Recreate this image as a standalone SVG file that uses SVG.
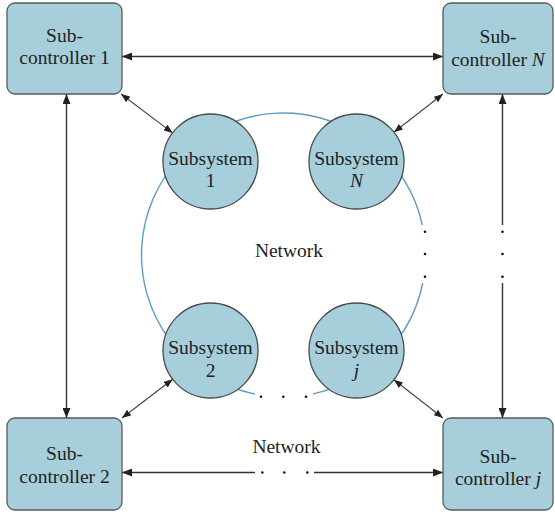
<svg xmlns="http://www.w3.org/2000/svg" width="555" height="514" viewBox="0 0 555 514">
<style>
.box{fill:#a6cfdb;stroke:#5a5a5a;stroke-width:1.3}
.sub{fill:#a6cfdb;stroke:#4a4a4a;stroke-width:1.3}
.t{font-family:"Liberation Serif","Times New Roman",serif;font-size:19.5px;fill:#222;text-anchor:middle}
.i{font-style:italic}
.ln{stroke:#333;stroke-width:1.4;fill:none}
.dg{stroke:#444;stroke-width:1.1;fill:none}
.net{stroke:#5e9cc4;stroke-width:1.4;fill:none}
.dot{fill:#111}
</style>
<defs>
<marker id="a" viewBox="0 0 10 8" refX="10" refY="4" markerWidth="10" markerHeight="8" markerUnits="userSpaceOnUse" orient="auto-start-reverse"><path d="M0,0 L10,4 L0,8 z" fill="#222"/></marker>
<marker id="b" viewBox="0 0 9 7" refX="9" refY="3.5" markerWidth="9" markerHeight="7" markerUnits="userSpaceOnUse" orient="auto-start-reverse"><path d="M0,0 L9,3.5 L0,7 z" fill="#222"/></marker>
</defs>
<g id="network">
<path class="net" d="M422.7 283 A142 142 0 0 1 313 393.9"/>
<path class="net" d="M255 394.1 A142 142 0 1 1 422.3 225"/>
<circle class="dot" cx="425" cy="231.7" r="1.3"/>
<circle class="dot" cx="425" cy="254" r="1.3"/>
<circle class="dot" cx="425" cy="276.7" r="1.3"/>
<circle class="dot" cx="261" cy="396.7" r="1.3"/>
<circle class="dot" cx="283.3" cy="396.7" r="1.3"/>
<circle class="dot" cx="306" cy="396.7" r="1.3"/>
<text class="t" x="289" y="257">Network</text>
<text class="t" x="286.5" y="453">Network</text>
</g>
<g id="connectors">
<line class="ln" x1="122" y1="56.5" x2="443" y2="56.5" marker-start="url(#a)" marker-end="url(#a)"/>
<line class="ln" x1="66.5" y1="94" x2="66.5" y2="418" marker-start="url(#a)" marker-end="url(#a)"/>
<line class="ln" x1="502.5" y1="94" x2="502.5" y2="225" marker-start="url(#a)"/>
<line class="ln" x1="502.5" y1="283" x2="502.5" y2="418" marker-end="url(#a)"/>
<circle class="dot" cx="502.5" cy="231.7" r="1.3"/>
<circle class="dot" cx="502.5" cy="254" r="1.3"/>
<circle class="dot" cx="502.5" cy="276.7" r="1.3"/>
<line class="ln" x1="122" y1="472.5" x2="255" y2="472.5" marker-start="url(#a)"/>
<line class="ln" x1="314" y1="472.5" x2="443" y2="472.5" marker-end="url(#a)"/>
<circle class="dot" cx="262.3" cy="472.5" r="1.3"/>
<circle class="dot" cx="284.3" cy="472.5" r="1.3"/>
<circle class="dot" cx="307.3" cy="472.5" r="1.3"/>
<line class="dg" x1="121" y1="94" x2="172.6" y2="132.9" marker-start="url(#b)" marker-end="url(#b)"/>
<line class="dg" x1="443" y1="94" x2="393.9" y2="132.3" marker-start="url(#b)" marker-end="url(#b)"/>
<line class="dg" x1="122" y1="418" x2="172.7" y2="379.3" marker-start="url(#b)" marker-end="url(#b)"/>
<line class="dg" x1="443" y1="418" x2="393.9" y2="379.7" marker-start="url(#b)" marker-end="url(#b)"/>
</g>
<g id="subcontroller1">
<rect class="box" x="7" y="3" width="115" height="91" rx="8"/>
<text class="t" x="64.5" y="42">Sub-</text>
<text class="t" x="64.5" y="63.5">controller 1</text>
</g>
<g id="subcontrollerN">
<rect class="box" x="443" y="3" width="110" height="91" rx="8"/>
<text class="t" x="498" y="43">Sub-</text>
<text class="t" x="498" y="66">controller <tspan class="i">N</tspan></text>
</g>
<g id="subcontroller2">
<rect class="box" x="7" y="418" width="115" height="92" rx="8"/>
<text class="t" x="64.5" y="460">Sub-</text>
<text class="t" x="64.5" y="482.5">controller 2</text>
</g>
<g id="subcontrollerj">
<rect class="box" x="443" y="418" width="110" height="92" rx="8"/>
<text class="t" x="498" y="463">Sub-</text>
<text class="t" x="498" y="485">controller <tspan class="i">j</tspan></text>
</g>
<g id="subsystem1">
<circle class="sub" cx="210.5" cy="161.5" r="47.5"/>
<text class="t" x="210.5" y="165">Subsystem</text>
<text class="t" x="210.5" y="187">1</text>
</g>
<g id="subsystemN">
<circle class="sub" cx="356.5" cy="161.5" r="47.5"/>
<text class="t" x="356.5" y="165">Subsystem</text>
<text class="t i" x="356.5" y="187">N</text>
</g>
<g id="subsystem2">
<circle class="sub" cx="210.5" cy="350.5" r="47.5"/>
<text class="t" x="210.5" y="354">Subsystem</text>
<text class="t" x="210.5" y="377">2</text>
</g>
<g id="subsystemj">
<circle class="sub" cx="356.5" cy="350.5" r="47.5"/>
<text class="t" x="356.5" y="354">Subsystem</text>
<text class="t i" x="356.5" y="377">j</text>
</g>
</svg>
